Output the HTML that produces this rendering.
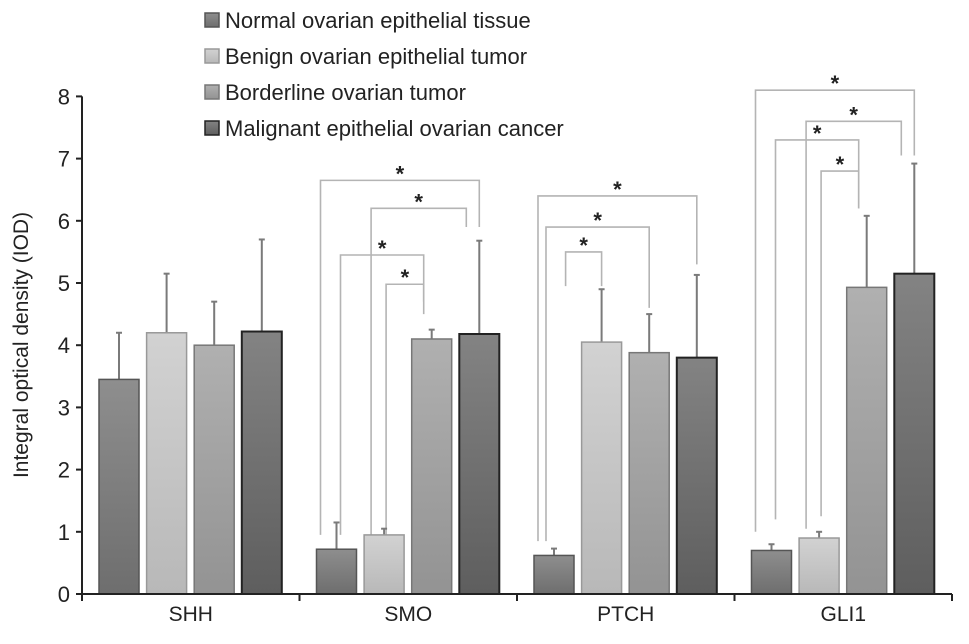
<!DOCTYPE html>
<html><head><meta charset="utf-8"><style>
body{margin:0;background:#fff;font-family:"Liberation Sans",sans-serif}
svg text{font-family:"Liberation Sans",sans-serif}
</style></head><body>
<svg id="c" width="969" height="639">
<defs>
<linearGradient id="g0" x1="0" y1="0" x2="0" y2="1"><stop offset="0" stop-color="#8e8e8e"/><stop offset="1" stop-color="#6e6e6e"/></linearGradient>
<linearGradient id="g1" x1="0" y1="0" x2="0" y2="1"><stop offset="0" stop-color="#d2d2d2"/><stop offset="1" stop-color="#b8b8b8"/></linearGradient>
<linearGradient id="g2" x1="0" y1="0" x2="0" y2="1"><stop offset="0" stop-color="#b0b0b0"/><stop offset="1" stop-color="#939393"/></linearGradient>
<linearGradient id="g3" x1="0" y1="0" x2="0" y2="1"><stop offset="0" stop-color="#838383"/><stop offset="1" stop-color="#5e5e5e"/></linearGradient>
</defs>
</svg>
<script>
const categories=["SHH","SMO","PTCH","GLI1"];
const seriesNames=["Normal ovarian epithelial tissue","Benign ovarian epithelial tumor","Borderline ovarian tumor","Malignant epithelial ovarian cancer"];
const normalVals=[3.45,0.72,0.62,0.70];
const benignVals=[4.20,0.95,4.05,0.90];
const borderlineVals=[4.00,4.10,3.88,4.93];
const malignantVals=[4.22,4.18,3.80,5.15];
const normalErr=[0.75,0.43,0.11,0.10];
const benignErr=[0.95,0.10,0.85,0.10];
const borderlineErr=[0.70,0.15,0.62,1.15];
const malignantErr=[1.48,1.50,1.33,1.77];
const yTicks=[0,1,2,3,4,5,6,7,8];
// brackets: [group, leftBar, rightBar, topValue, leftBottomValue, rightBottomValue, leftOffset, rightOffset]
const brackets=[
[1,0,3,6.65,0.95,5.9,-16,0],[1,1,3,6.2,0.7,5.9,-13,-13],[1,0,2,5.45,0.95,4.7,4,-8],[1,1,2,4.98,0.55,4.5,2,-8],
[2,0,3,6.4,0.85,5.3,-16,0],[2,0,2,5.9,0.85,4.6,-8,0],[2,1,1,5.5,4.95,4.95,-36,0],
[3,0,3,8.1,1.0,7.05,-16,0],[3,1,3,7.6,1.05,7.05,-13,-13],[3,0,2,7.3,1.2,6.2,4,-8],[3,1,2,6.8,1.25,6.2,2,-8]
];
const svg=document.getElementById('c');const NS="http://www.w3.org/2000/svg";
const X0=82,GW=217.5,Y0=594,PU=62.2;
const y=v=>Y0-v*PU;
const bx=(g,i)=>X0+17+g*GW+i*47.6;
function el(t,a,p){const e=document.createElementNS(NS,t);for(const k in a)e.setAttribute(k,a[k]);(p||svg).appendChild(e);return e;}
const vals=[normalVals,benignVals,borderlineVals,malignantVals];
const errs=[normalErr,benignErr,borderlineErr,malignantErr];
const strokes=["#555","#999","#777","#222"];
brackets.forEach(b=>{const[g,l,r,t,lb,rb,lo,ro]=b;
 let xl=bx(g,l)+20+lo, xr=bx(g,r)+20+ro;
 const p=el('polyline',{points:`${xl},${y(lb)} ${xl},${y(t)} ${xr},${y(t)} ${xr},${y(rb)}`,fill:'none',stroke:'#b4b4b4','stroke-width':1.6});
 
 const s=el('text',{x:(xl+xr)/2,y:y(t)+1,'text-anchor':'middle','font-size':22,'font-weight':'bold',fill:'#222'});s.textContent='*';
 
});
categories.forEach((c,g)=>{
 for(let i=0;i<4;i++){
  const v=vals[i][g],e=errs[i][g],x=bx(g,i);
  const ln=el('line',{x1:x+20,x2:x+20,y1:y(v),y2:y(v+e),stroke:'#7a7a7a','stroke-width':2});
  
  el('line',{x1:x+17,x2:x+23,y1:y(v+e),y2:y(v+e),stroke:'#7a7a7a','stroke-width':2});
  const r=el('rect',{x:x,y:y(v),width:40,height:v*PU,fill:`url(#g${i})`,stroke:strokes[i],'stroke-width':i===3?2:1.5});
  
 }
 const t=el('text',{x:X0+GW*g+GW/2,y:621,'text-anchor':'middle','font-size':21,fill:'#222'});t.textContent=c;
 
 el('line',{x1:X0+GW*(g+1),x2:X0+GW*(g+1),y1:Y0,y2:Y0+7,stroke:'#222','stroke-width':2});
});
const ax=el('line',{x1:X0,x2:X0+GW*4,y1:Y0,y2:Y0,stroke:'#222','stroke-width':2});
const ay=el('line',{x1:X0,x2:X0,y1:Y0+7,y2:y(8),stroke:'#222','stroke-width':2});
yTicks.forEach(v=>{el('line',{x1:X0-6,x2:X0,y1:y(v),y2:y(v),stroke:'#222','stroke-width':2});
 const t=el('text',{x:X0-12,y:y(v)+8,'text-anchor':'end','font-size':22,fill:'#222'});t.textContent=v;
 });
const yl=el('text',{x:0,y:0,transform:'translate(28,345) rotate(-90)','text-anchor':'middle','font-size':21,fill:'#222'});yl.textContent='Integral optical density (IOD)';

seriesNames.forEach((n,i)=>{const yy=20+i*36;
 const r=el('rect',{x:205,y:yy-7,width:14,height:14,fill:`url(#g${i})`,stroke:strokes[i],'stroke-width':1.5});
 
 const t=el('text',{x:225,y:yy+8,'font-size':22,fill:'#222'});t.textContent=n;
 });
</script>
</body></html>
